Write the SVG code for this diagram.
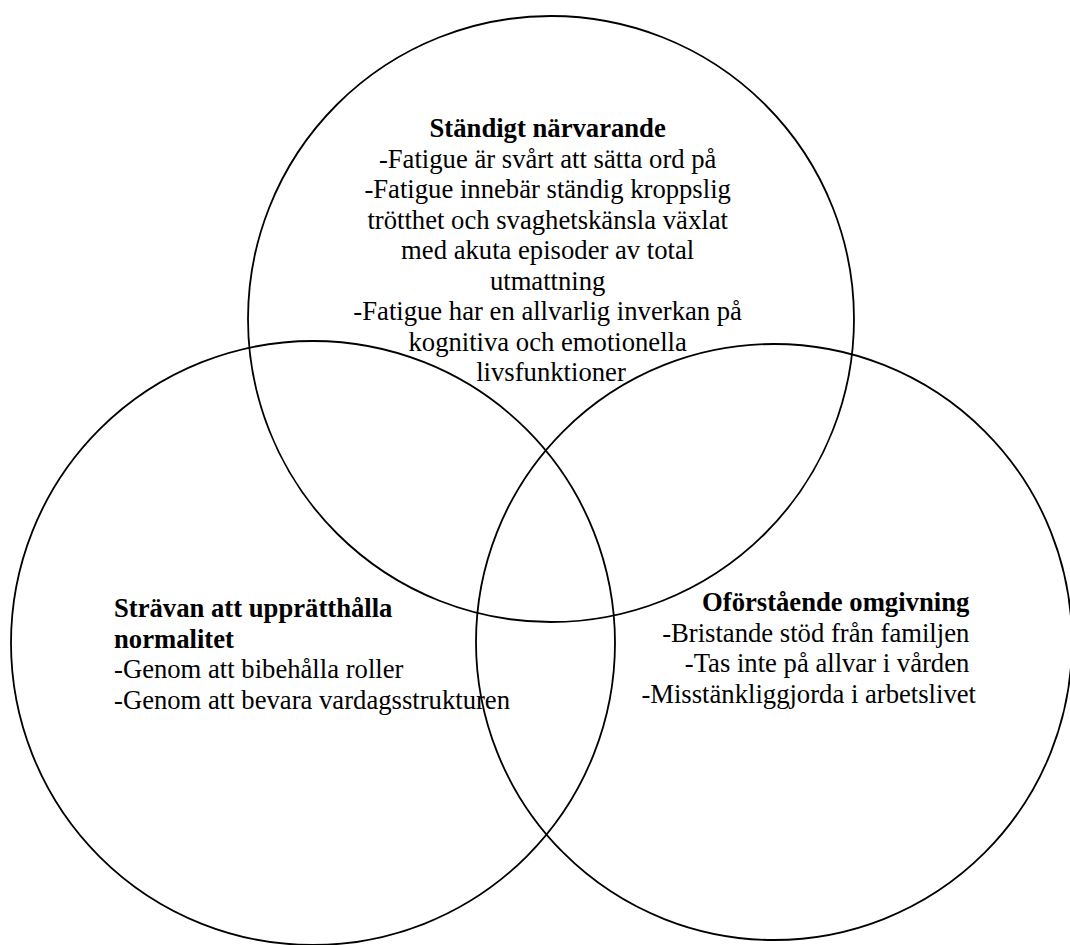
<svg xmlns="http://www.w3.org/2000/svg" width="1070" height="945" viewBox="0 0 1070 945">
<style>
.c{fill:none;stroke:#000;stroke-width:1.8}
text{font-family:"Liberation Serif","Times New Roman",serif;font-size:26.67px;fill:#000}
.b{font-weight:bold}
</style>
<rect width="1070" height="945" fill="#fff"/>
<g id="connectors"></g>
<g id="node-top">
<circle class="c" cx="551" cy="319" r="303"/>
<text text-anchor="middle">
<tspan class="b" x="551" y="137">Ständigt närvarande</tspan>
<tspan x="551" y="167.5">-Fatigue är svårt att sätta ord på</tspan>
<tspan x="551" y="198">-Fatigue innebär ständig kroppslig</tspan>
<tspan x="551" y="228.5">trötthet och svaghetskänsla växlat</tspan>
<tspan x="551" y="259">med akuta episoder av total</tspan>
<tspan x="551" y="289.5">utmattning</tspan>
<tspan x="551" y="320">-Fatigue har en allvarlig inverkan på</tspan>
<tspan x="551" y="350.5">kognitiva och emotionella</tspan>
<tspan x="551" y="381">livsfunktioner</tspan>
</text>
</g>
<g id="node-left">
<circle class="c" cx="313" cy="643" r="302"/>
<text>
<tspan class="b" x="114" y="617">Strävan att upprätthålla</tspan>
<tspan class="b" x="114" y="647.5">normalitet</tspan>
<tspan x="114" y="678">-Genom att bibehålla roller</tspan>
<tspan x="114" y="708.5">-Genom att bevara vardagsstrukturen</tspan>
</text>
</g>
<g id="node-right">
<circle class="c" cx="774" cy="642" r="298"/>
<text text-anchor="end">
<tspan class="b" x="976" y="611">Oförstående omgivning</tspan>
<tspan x="976" y="641.5">-Bristande stöd från familjen</tspan>
<tspan x="976" y="672">-Tas inte på allvar i vården</tspan>
<tspan x="976" y="702.5">-Misstänkliggjorda i arbetslivet</tspan>
</text>
</g>
</svg>
